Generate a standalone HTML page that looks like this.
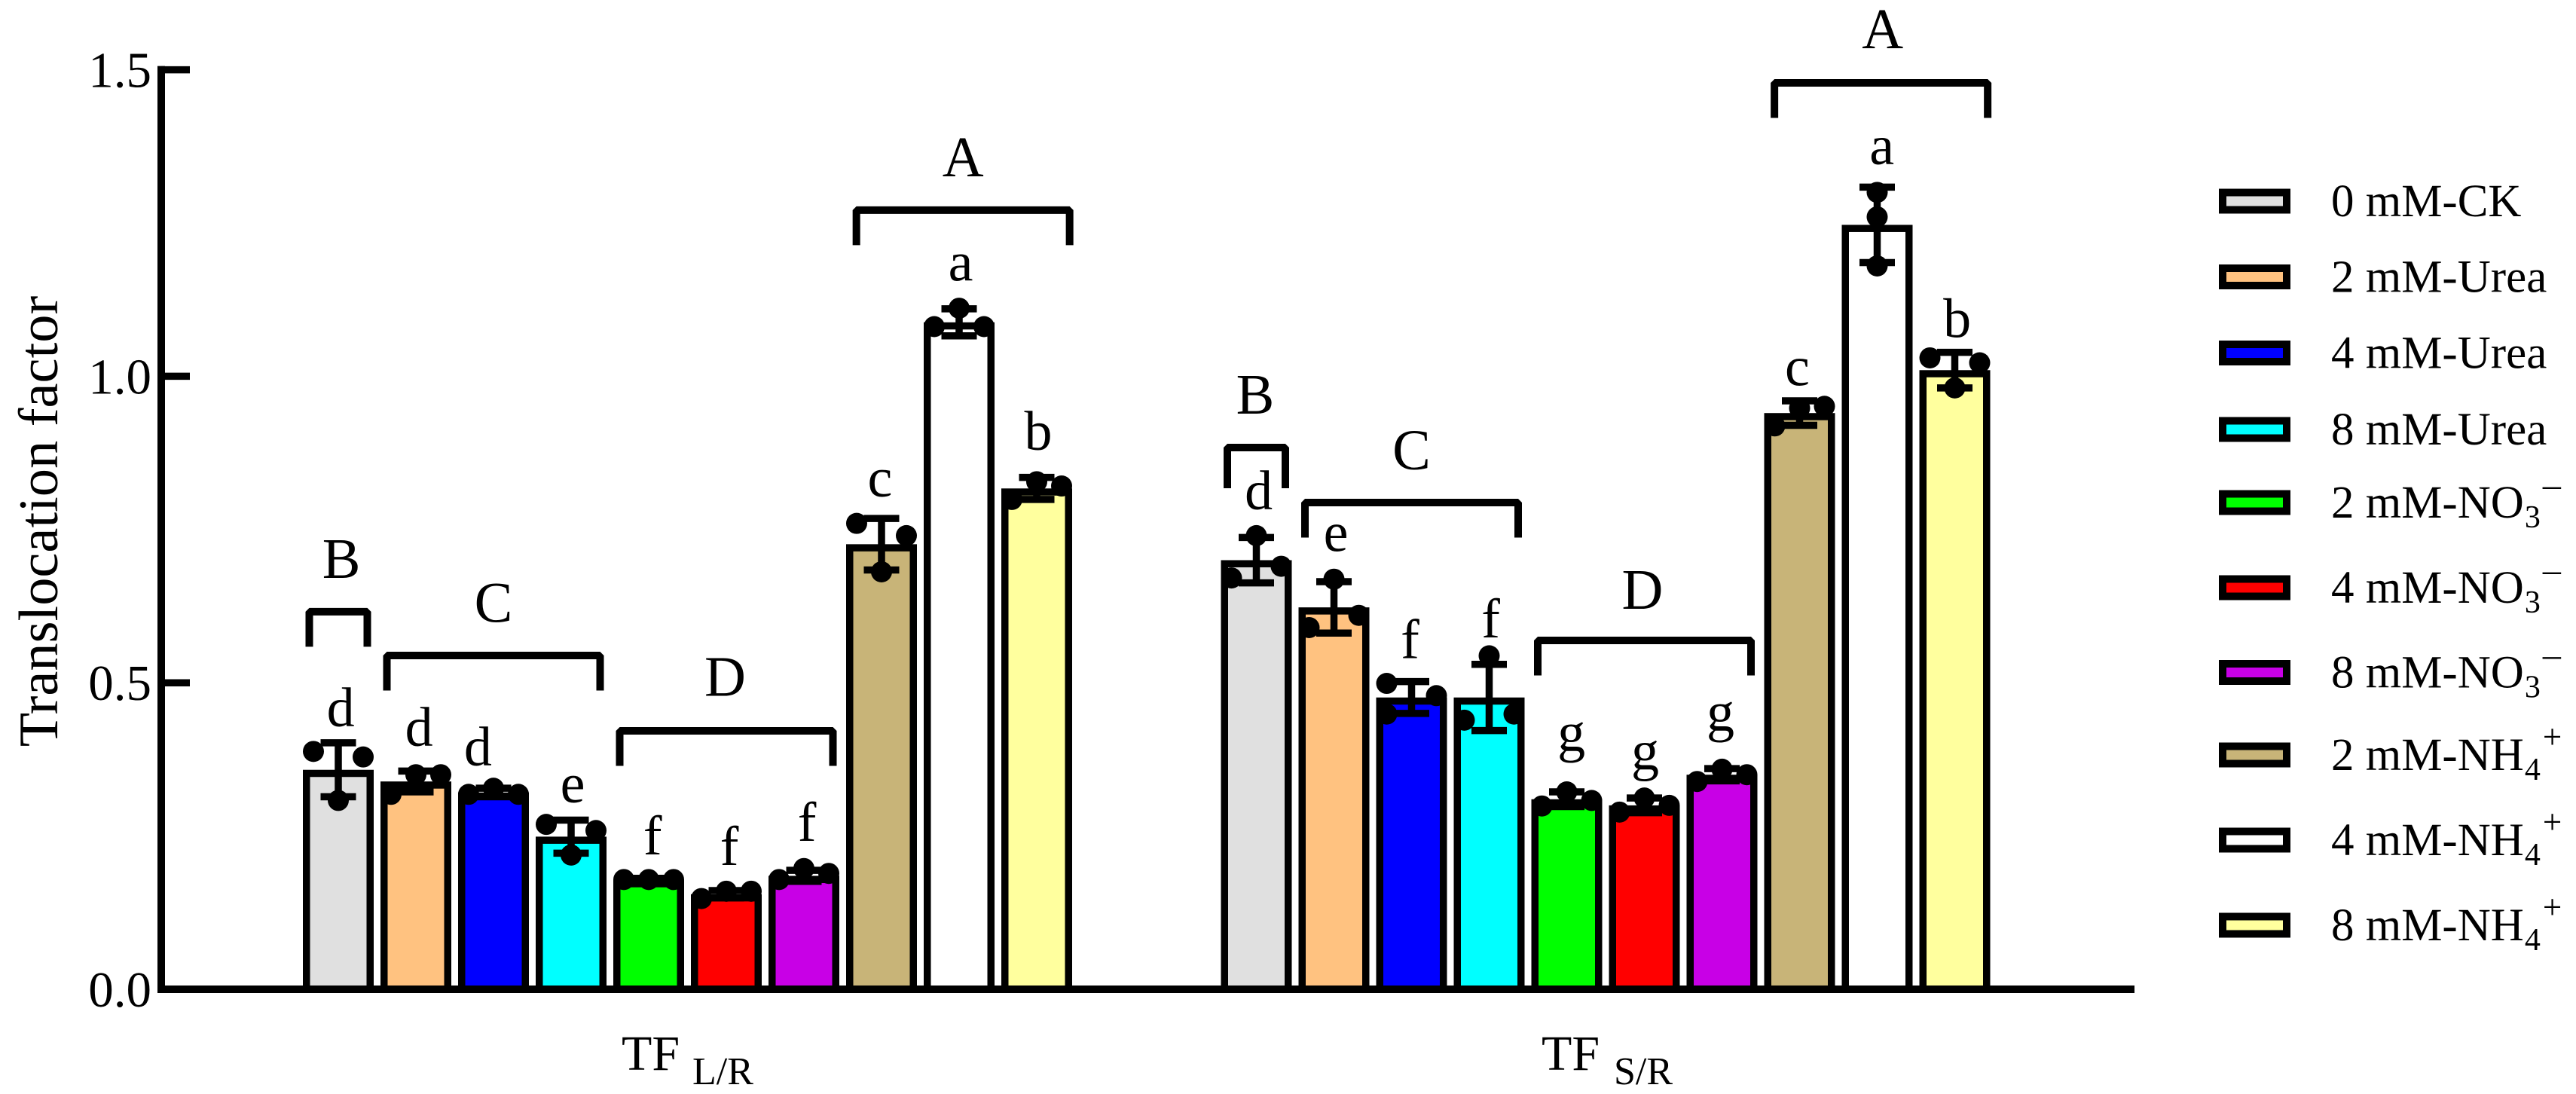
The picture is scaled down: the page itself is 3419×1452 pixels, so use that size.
<!DOCTYPE html>
<html lang="en">
<head>
<meta charset="utf-8">
<title>Translocation factor bar chart</title>
<style>
html,body{margin:0;padding:0;background:#fff;}
svg{display:block;}
text{font-family:"Liberation Serif",serif;fill:#000;}
</style>
</head>
<body>
<svg id="chart" xmlns="http://www.w3.org/2000/svg" width="3419" height="1452" viewBox="0 0 3419 1452">
  <rect x="0" y="0" width="3419" height="1452" fill="#fff"/>
  <g id="bars"></g>
  <g id="annotations"></g>
  <g id="axes"></g>
  <g id="legend"></g>
  <text transform="translate(76,692) rotate(-90)" text-anchor="middle" font-size="74.4">Translocation factor</text>
</svg>
<script>
// ---- data ----
const categories = ['0 mM-CK','2 mM-Urea','4 mM-Urea','8 mM-Urea','2 mM-NO3-','4 mM-NO3-','8 mM-NO3-','2 mM-NH4+','4 mM-NH4+','8 mM-NH4+'];
const legendBase = ['0 mM-CK','2 mM-Urea','4 mM-Urea','8 mM-Urea','2 mM-NO','4 mM-NO','8 mM-NO','2 mM-NH','4 mM-NH','8 mM-NH'];
const legendSub = ['','','','','3','3','3','4','4','4'];
const legendSup = ['','','','','\u2013','\u2013','\u2013','+','+','+'];
const colors = ['#E0E0E0','#FFC280','#0000FF','#00FFFF','#00FF00','#FF0000','#C800E6','#C8B478','#FFFFFF','#FFFF9E'];
const yTicks = [0, 0.5, 1.0, 1.5];
const yTickLabels = ['0.0','0.5','1.0','1.5'];

const meansLR = [0.358,0.339,0.321,0.249,0.178,0.155,0.185,0.726,1.088,0.817];
const sdLR    = [0.044,0.017,0.007,0.027,0.003,0.006,0.009,0.042,0.022,0.018];
const dotsLR  = [[0.388,0.308,0.379],[0.318,0.350,0.350],[0.318,0.328,0.318],[0.269,0.219,0.259],[0.179,0.179,0.179],[0.148,0.160,0.160],[0.179,0.197,0.189],[0.760,0.681,0.740],[1.081,1.111,1.081],[0.799,0.828,0.821]];
const lettersLR = ['d','d','d','e','f','f','f','c','a','b'];
const letterLevelLR = [0.429,0.397,0.365,0.305,0.220,0.203,0.242,0.804,1.156,0.880];
const letterShiftLR = [0.03,0.04,-0.2,0.02,0.05,0.04,0.04,-0.02,0.02,0.02];

const meansSR = [0.700,0.623,0.476,0.476,0.310,0.300,0.350,0.940,1.247,1.010];
const sdSR    = [0.037,0.042,0.026,0.054,0.012,0.012,0.010,0.020,0.0615,0.029];
const dotsSR  = [[0.671,0.740,0.690],[0.590,0.669,0.610],[0.499,0.449,0.479],[0.439,0.544,0.449],[0.299,0.322,0.308],[0.289,0.312,0.300],[0.339,0.359,0.350],[0.919,0.948,0.951],[1.300,1.260,1.180],[1.030,0.981,1.022]];
const lettersSR = ['d','e','f','f','g','g','g','c','a','b'];
const letterLevelSR = [0.783,0.715,0.540,0.574,0.389,0.359,0.422,0.985,1.346,1.064];
const letterShiftSR = [0.03,0.025,-0.02,0.02,0.06,0.01,-0.02,-0.03,0.06,0.03];

const groupNames = ['L/R','S/R'];
const groupKeys = ['LR','SR'];
const dotSlots = {LR:[[-1,0,1],[-1,0,1],[-1,0,1],[-1,0,1],[-1,0,1],[-1,0,1],[-1,0,1],[-1,0,1],[-1,0,1],[-1,0,1]],
                  SR:[[-1,0,1],[-1,0,1],[-1,-1,1],[-1,0,1],[-1,0,1],[-1,0,1],[-1,0,1],[-1,0,1],[0,0,0],[-1,0,1]]};
const bracketLabels = ['B','C','D','A'];
const bracketFirst = [0,1,4,7];
const bracketLast = [0,3,6,9];
const bracketNudge = [0,0,0,0.05];
const bracketLevelLR = [0.616,0.5445,0.4216,1.271];
const bracketLevelSR = [0.8837,0.794,0.569,1.4786];
const bracketDropLR = [46.5,46.5,46.5,46.5];
const bracketDropSR = [54,46.5,46.5,46.5];
const bracketLabelLevelLR = [0.671,0.599,0.479,1.326];
const bracketLabelLevelSR = [0.939,0.848,0.621,1.535];
const bracketLabelShiftLR = [0.04,0,-0.015,0];
const bracketLabelShiftSR = [-0.015,0,-0.025,0.02];

// ---- scales ----
const NS = 'http://www.w3.org/2000/svg';
const Y0 = 1313, PX_PER_UNIT = 813.6;
const BAR_STEP = 103, BAR_W = 94, STROKE = 9.5;
const GROUP_LEFT = [449, 1667.5];
function yScale(v){ return Y0 - v * PX_PER_UNIT; }
function xScale(g, i){ return GROUP_LEFT[g] + i * BAR_STEP; }
function make(tag, attrs, parent){
  const el = document.createElementNS(NS, tag);
  for (const k in attrs) el.setAttribute(k, attrs[k]);
  parent.appendChild(el);
  return el;
}
const barsG = document.getElementById('bars');
const annG = document.getElementById('annotations');
const axesG = document.getElementById('axes');
const legendG = document.getElementById('legend');

const seriesByGroup = [
  {means:meansLR, sd:sdLR, dots:dotsLR, letters:lettersLR, lv:letterLevelLR, ls:letterShiftLR, bl:bracketLevelLR, bd:bracketDropLR, bll:bracketLabelLevelLR, bls:bracketLabelShiftLR, slots:dotSlots.LR},
  {means:meansSR, sd:sdSR, dots:dotsSR, letters:lettersSR, lv:letterLevelSR, ls:letterShiftSR, bl:bracketLevelSR, bd:bracketDropSR, bll:bracketLabelLevelSR, bls:bracketLabelShiftSR, slots:dotSlots.SR}
];

seriesByGroup.forEach(function(s, g){
  const key = groupKeys[g].toLowerCase();
  s.means.forEach(function(m, i){
    const cx = xScale(g, i), top = yScale(m);
    const bar = make('rect', {x:cx-BAR_W/2+STROKE/2, y:top+STROKE/2, width:BAR_W-STROKE, height:Y0-top-STROKE/2, fill:colors[i], stroke:'#000', 'stroke-width':STROKE}, barsG);
    
    

    const eg = make('g', {stroke:'#000', 'stroke-width':9.5, fill:'none'}, annG);
    
    
    const hi = yScale(m + s.sd[i]), lo = yScale(m - s.sd[i]);
    make('line', {x1:cx, x2:cx, y1:hi, y2:lo}, eg);
    make('line', {x1:cx-23.5, x2:cx+23.5, y1:hi, y2:hi}, eg);
    make('line', {x1:cx-23.5, x2:cx+23.5, y1:lo, y2:lo}, eg);

    s.dots[i].forEach(function(d, j){
      const dot = make('circle', {cx:cx + s.slots[i][j]*33, cy:yScale(d), r:14, fill:'#000'}, annG);
      
      
    });

    const t = make('text', {x:cx + s.ls[i]*BAR_STEP, y:yScale(s.lv[i]), 'text-anchor':'middle', 'font-size':74}, annG);
    t.textContent = s.letters[i];
    
    
  });

  bracketLabels.forEach(function(lab, b){
    const x1 = xScale(g, bracketFirst[b]) - 38.5 + bracketNudge[b]*BAR_STEP;
    const x2 = xScale(g, bracketLast[b]) + 38.5 + bracketNudge[b]*BAR_STEP;
    const yt = yScale(s.bl[b]);
    const p = make('path', {d:'M'+x1+' '+(yt+s.bd[b])+'V'+yt+'H'+x2+'V'+(yt+s.bd[b]), fill:'none', stroke:'#000', 'stroke-width':10, 'stroke-linejoin':'bevel'}, annG);
    
    
    const t = make('text', {x:(x1+x2)/2 + s.bls[b]*BAR_STEP, y:yScale(s.bll[b]), 'text-anchor':'middle', 'font-size':76}, annG);
    t.textContent = lab;
    
    
  });

  const xStart = g === 0 ? 825 : 2046;
  const xl = make('text', {x:xStart, y:1420, 'font-size':66}, axesG);
  
  
  const tf = make('tspan', {}, xl);
  tf.textContent = 'TF ';
  const sb = make('tspan', {x:xStart + (g === 0 ? 94 : 96), y:1439, 'font-size':52}, xl);
  sb.textContent = groupNames[g];
});

// ---- axes ----
const yAxis = make('line', {x1:214, x2:214, y1:yScale(1.5)-5, y2:Y0+5, stroke:'#000', 'stroke-width':10}, axesG);


const xAxis = make('line', {x1:209, x2:2833, y1:Y0, y2:Y0, stroke:'#000', 'stroke-width':10}, axesG);


yTicks.forEach(function(v, i){
  const y = yScale(v);
  const tick = make('line', {x1:214, x2:252, y1:y, y2:y, stroke:'#000', 'stroke-width':9.5}, axesG);
  
  
  const lab = make('text', {x:201, y:y+23, 'text-anchor':'end', 'font-size':67}, axesG);
  lab.textContent = yTickLabels[i];
  
  
});

// ---- legend ----
const legendRowStep = [0,100.5,201.5,303,400,513,625.5,735,848,961];
categories.forEach(function(name, i){
  const yc = 267 + legendRowStep[i];
  const sw = make('rect', {x:2950, y:yc-11.5, width:85, height:23, fill:colors[i], stroke:'#000', 'stroke-width':10}, legendG);
  
  
  const t = make('text', {x:3094, y:yc+20, 'font-size':61}, legendG);
  
  
  const b = make('tspan', {}, t);
  b.textContent = legendBase[i];
  if (legendSub[i]) {
    const sub = make('tspan', {dy:13, dx:1, 'font-size':42}, t);
    sub.textContent = legendSub[i];
    const isPlus = legendSup[i] === '+';
    const sup = make('tspan', {dy:isPlus ? -42 : -41, dx:3, 'font-size':isPlus ? 45 : 48}, t);
    sup.textContent = legendSup[i];
  }
});
</script>
</body>
</html>
